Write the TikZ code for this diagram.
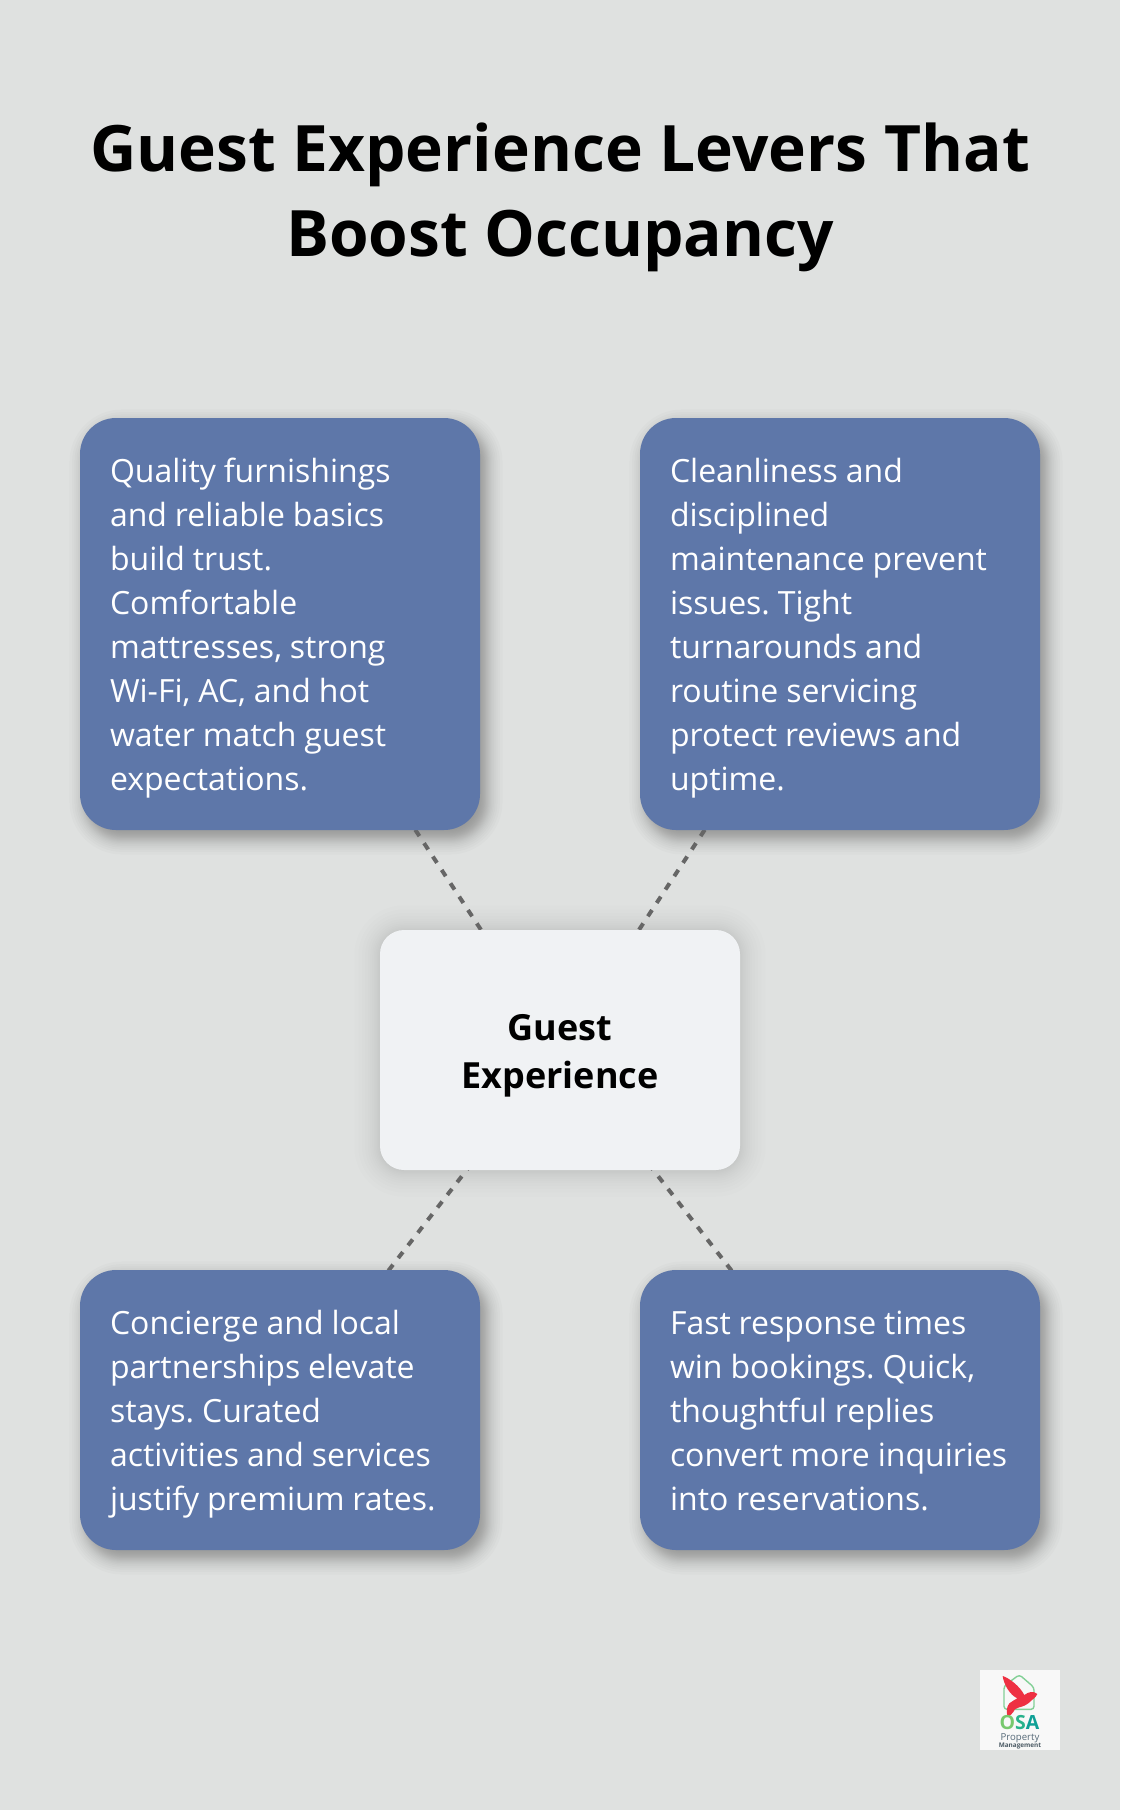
\documentclass[tikz,border=0pt]{standalone}
\usepackage{fontspec}
\setmainfont{Open Sans}
\pgfdeclarelayer{shadowlayer}
\pgfdeclarelayer{connlayer}
\pgfsetlayers{shadowlayer,connlayer,main}
\definecolor{bgc}{HTML}{DFE1E0}
\definecolor{bluec}{HTML}{5E77A9}
\definecolor{hubc}{HTML}{F0F2F4}
\definecolor{linec}{HTML}{666666}
\definecolor{logobg}{HTML}{F8F8F8}
\definecolor{logohouse}{RGB}{130,208,150}
\definecolor{logobird}{RGB}{238,48,66}
\definecolor{logoo}{RGB}{120,200,110}
\definecolor{logos}{RGB}{40,178,140}
\definecolor{logoa}{RGB}{15,160,150}
\definecolor{logoprop}{RGB}{85,105,120}
\definecolor{logomg}{RGB}{75,90,100}
\newcommand{\softshadow}[9]{%
  \foreach \i in {1,...,24}{%
    \pgfmathsetmacro{\uu}{1-2*(\i-0.5)/24}%
    \pgfmathsetmacro{\infl}{#8*(0.5*\uu+0.5*\uu*\uu*\uu)}%
    \pgfmathsetmacro{\rad}{max(#5+\infl,2)}%
    \fill[black,fill opacity=#9/24,rounded corners=\rad pt]
      ({#1+#6-\infl},{#2+#7-\infl}) rectangle ({#3+#6+\infl},{#4+#7+\infl});
  }%
}
\newcommand{\ls}{\rule[-10pt]{0pt}{44pt}}
\newcommand{\bodyset}{\frenchspacing\spaceskip=7.9pt\relax\hyphenpenalty=10000\relax}
\newcommand{\titleset}{\spaceskip=16.8pt\relax}
\tikzset{
  x=1pt,y=-1pt,
  leverbox/.style={rectangle,rounded corners=36pt,fill=bluec,text=white,
    minimum width=400pt,inner xsep=30pt,inner ysep=0pt,text width=340pt,align=left,
    font=\fontsize{32}{44}\selectfont},
  hubbox/.style={rectangle,rounded corners=24pt,fill=hubc,text=black,
    minimum width=360pt,minimum height=240pt,inner sep=0pt,align=center,
    font=\fontsize{36}{48}\selectfont\bfseries},
  titletext/.style={inner sep=0pt,align=center,text=black,
    font=\fontsize{64}{85}\selectfont\bfseries},
  dashlink/.style={draw=linec,line width=4pt,dash pattern=on 7.5pt off 8.5pt},
}
\begin{document}
\begin{tikzpicture}
\useasboundingbox (0,0) rectangle (1120,1810);

\begin{pgfonlayer}{shadowlayer}
  \fill[bgc] (0,0) rectangle (1120,1810);
  \softshadow{80}{418}{480}{830}{36}{6}{8}{18}{0.42}
  \softshadow{640}{418}{1040}{830}{36}{6}{8}{18}{0.42}
  \softshadow{80}{1270}{480}{1550}{36}{6}{8}{18}{0.42}
  \softshadow{640}{1270}{1040}{1550}{36}{6}{8}{18}{0.42}
  \softshadow{380}{930}{740}{1170}{24}{0}{1}{28}{0.2}
\end{pgfonlayer}

\node[titletext] (title) at (560,202) {\titleset\rule[-25pt]{0pt}{60pt}Guest Experience Levers That\\Boost Occupancy\rule[-25pt]{0pt}{60pt}};

\node[leverbox,minimum height=412pt] (q1) at (280,624) {\bodyset\ls Quality furnishings\\and reliable basics\\build trust.\\Comfortable\\mattresses, strong\\Wi-Fi, AC, and hot\\water match guest\\expectations.\ls};
\node[leverbox,minimum height=412pt] (q2) at (840,624) {\bodyset\ls Cleanliness and\\disciplined\\maintenance prevent\\issues. Tight\\turnarounds and\\routine servicing\\protect reviews and\\uptime.\ls};
\node[leverbox,minimum height=280pt] (q3) at (280,1410) {\bodyset\ls Concierge and local\\partnerships elevate\\stays. Curated\\activities and services\\justify premium rates.\ls};
\node[leverbox,minimum height=280pt] (q4) at (840,1410) {\bodyset\ls Fast response times\\win bookings. Quick,\\thoughtful replies\\convert more inquiries\\into reservations.\ls};
\node[hubbox] (hub) at (560,1050) {\rule[-10pt]{0pt}{48pt}Guest\\Experience\rule[-10pt]{0pt}{48pt}};

\begin{pgfonlayer}{connlayer}
  \draw[dashlink] (hub.center) -- (q1.center);
  \draw[dashlink] (hub.center) -- (q2.center);
  \draw[dashlink] (hub.center) -- (q3.center);
  \draw[dashlink] (hub.center) -- (q4.center);
\end{pgfonlayer}

% logo
\fill[logobg] (980,1670) rectangle (1060,1750);
\begin{scope}[shift={(960,1650)},x=0.3333pt,y=-0.3333pt]
  \draw[logohouse,line width=1.4pt,line join=round,rounded corners=3pt]
    (132,108) -- (178,74) -- (222,112) -- (222,178) -- (132,178) -- cycle;
  \fill[logobird]
    (128,78) .. controls (150,85) and (180,110) .. (193,135)
    .. controls (205,125) and (222,122) .. (232,132)
    .. controls (228,142) and (215,150) .. (205,160)
    .. controls (190,172) and (175,170) .. (165,178)
    .. controls (158,190) and (150,198) .. (143,200)
    .. controls (138,185) and (140,170) .. (148,160)
    .. controls (155,153) and (165,150) .. (172,145)
    .. controls (150,135) and (132,105) .. (128,78) -- cycle;
\end{scope}
\node[inner sep=0pt,anchor=base,font=\fontsize{19.5}{19.5}\selectfont\bfseries,text=logos] (osa) at (1019.5,1729.5) {\textcolor{logoo}{O}S\textcolor{logoa}{A}};
\node[inner sep=0pt,anchor=base,font=\fontsize{9.6}{10}\selectfont,text=logoprop] (prop) at (1020,1740) {Property};
\node[inner sep=0pt,anchor=base,font=\fontsize{6.4}{7}\selectfont\bfseries,text=logomg] (mgmt) at (1020,1747.5) {Management};
\end{tikzpicture}
\end{document}
